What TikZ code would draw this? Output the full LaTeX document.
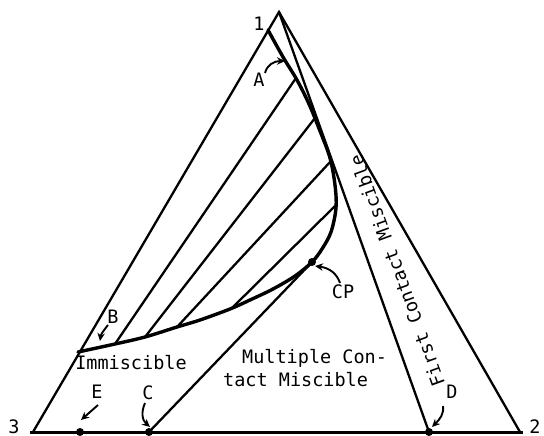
\documentclass[tikz,border=0pt]{standalone}
\usepackage{fontspec}
\newfontfamily\tw{DejaVu Sans Mono}
\usetikzlibrary{arrows.meta}
\begin{document}
\begin{tikzpicture}[x=1pt,y=-1pt,
  edge/.style={line width=2.3pt},
  binodal/.style={line width=3.4pt, line join=round, line cap=round},
  lbl/.style={font=\tw\fontsize{18.5}{20}\selectfont, inner sep=0pt},
  dotpt/.style={circle, fill=black, inner sep=0pt, minimum size=8pt},
  ptr/.style={line width=1.9pt, -{Stealth[length=8pt,width=7.5pt]}}]
\useasboundingbox (0,0) rectangle (544,436);
% vertices
\coordinate (v1) at (279,12);
\coordinate (v3) at (33,432);
\coordinate (v2) at (520,432);
\coordinate (b3) at (30,432);
\coordinate (b2) at (523,432);
% points
\node[dotpt] (E) at (80,432) {};
\node[dotpt] (C) at (149,432) {};
\node[dotpt] (D) at (429,432) {};
\node[dotpt] (CP) at (312,262) {};
% triangle
\draw[line width=3pt] (b3) -- (b2);
\draw[edge, line join=miter] (v3) -- (v1) -- (v2);
% first contact line
\draw[edge] (v1) -- (D.center);
% multiple contact line
\draw[edge] (C.center) -- (CP.center);
% binodal curve
\draw[binodal] plot[smooth, tension=0.55] coordinates {
 (268,30) (283,57) (297,80) (309,104) (320,131) (330,158) (335,185) (336,208)
 (331,232) (322,249) (312,262) (295,276) (273,289) (250,300) (230,309)
 (200,320) (177,327) (145,337) (115,344) (78,352)};
% tie lines
\coordinate (t1s) at (115,344); \coordinate (t1e) at (296,78);
\coordinate (t2s) at (145,337); \coordinate (t2e) at (315,118);
\coordinate (t3s) at (177,327); \coordinate (t3e) at (331,161);
\coordinate (t4s) at (232,308); \coordinate (t4e) at (335,206);
\draw[edge] (t1s) -- (t1e);
\draw[edge] (t2s) -- (t2e);
\draw[edge] (t3s) -- (t3e);
\draw[edge] (t4s) -- (t4e);
% vertex labels
\node[lbl] (l1) at (259,24) {1};
\node[lbl] (l2) at (535,427) {2};
\node[lbl] (l3) at (14,427) {3};
% point labels
\node[lbl] (lA) at (259,80) {A};
\node[lbl] (lB) at (113,317) {B};
\node[lbl] (lE) at (97,392) {E};
\node[lbl] (lC) at (148,393) {C};
\node[lbl] (lD) at (452,392) {D};
\node[lbl] (lCP) at (343,292) {CP};
% pointers
\coordinate (aA) at (265,73); \coordinate (hA) at (285,61);
\draw[ptr] (aA) .. controls (267,65) and (274,61) .. (hA);
\coordinate (aB) at (108,325); \coordinate (hB) at (100,341);
\draw[ptr] (aB) .. controls (104,330) and (101,334) .. (hB);
\coordinate (aE) at (98,405); \coordinate (hE) at (81,420);
\draw[ptr] (aE) -- (hE);
\coordinate (aC) at (145,403); \coordinate (hC) at (150,427);
\draw[ptr] (aC) .. controls (141,412) and (142,420) .. (hC);
\coordinate (aD) at (443,406); \coordinate (hD) at (432,427);
\draw[ptr] (aD) .. controls (444,414) and (440,419) .. (hD);
\coordinate (aCP) at (340,283); \coordinate (hCP) at (315,266);
\draw[ptr] (aCP) .. controls (337,274) and (330,268) .. (hCP);
% region texts
\node[lbl] (imm) at (131,363) {Immiscible};
\node[lbl, anchor=west] (mc1) at (242,358) {Multiple Con-};
\node[lbl, anchor=west] (mc2) at (223,380) {tact Miscible};
\node[lbl, rotate=110] (fcm) at (397,271) {First Contact Miscible};
\end{tikzpicture}
\end{document}
